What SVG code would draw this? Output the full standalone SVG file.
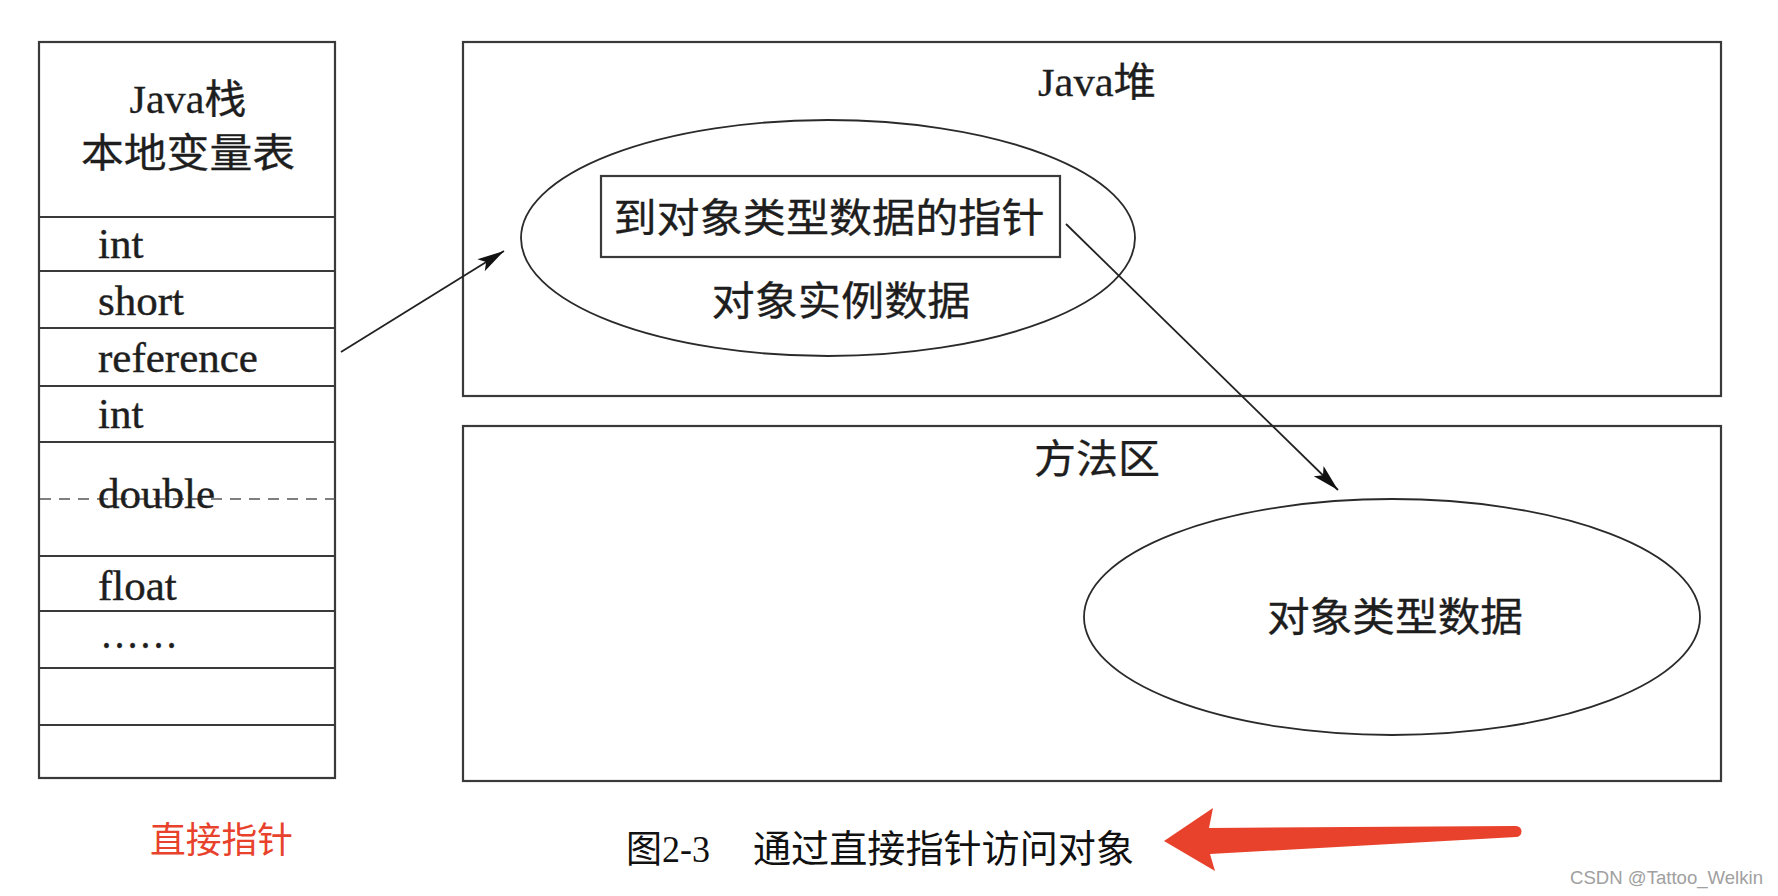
<svg xmlns="http://www.w3.org/2000/svg" width="1778" height="896" viewBox="0 0 1778 896">
<style>
.box{fill:none;stroke:#3a3a3a;stroke-width:2.2}
.thin{fill:none;stroke:#2a2a2a;stroke-width:1.8}
.lat{font-family:"Liberation Serif","Noto Sans CJK SC",serif;font-size:43px;fill:#1e1e1e;stroke:#1e1e1e;stroke-width:0.4}
.cjk{font-family:"Liberation Serif","Noto Sans CJK SC",serif;font-size:40px;fill:#1e1e1e;stroke:#1e1e1e;stroke-width:0.3}
.con{fill:none;stroke:#222;stroke-width:1.8}
</style>
<defs>
<marker id="ah" markerWidth="28" markerHeight="16" refX="27" refY="8" orient="auto" markerUnits="userSpaceOnUse">
<path d="M0,1 L27,8 L0,15 L6,8 Z" fill="#111"/>
</marker>
</defs>
<rect width="1778" height="896" fill="#fff"/>

<g id="stack">
<rect class="box" x="39" y="42" width="296" height="736"/>
<line class="box" x1="39" y1="217" x2="335" y2="217"/>
<line class="box" x1="39" y1="271" x2="335" y2="271"/>
<line class="box" x1="39" y1="328" x2="335" y2="328"/>
<line class="box" x1="39" y1="386" x2="335" y2="386"/>
<line class="box" x1="39" y1="442" x2="335" y2="442"/>
<line class="box" x1="39" y1="556" x2="335" y2="556"/>
<line class="box" x1="39" y1="611" x2="335" y2="611"/>
<line class="box" x1="39" y1="668" x2="335" y2="668"/>
<line class="box" x1="39" y1="725" x2="335" y2="725"/>
<line x1="40" y1="499" x2="335" y2="499" stroke="#555" stroke-width="1.6" stroke-dasharray="11 8"/>
<text class="cjk" x="188" y="113" text-anchor="middle" textLength="117" lengthAdjust="spacingAndGlyphs">Java栈</text>
<text class="cjk" x="188" y="167" text-anchor="middle" textLength="214" lengthAdjust="spacingAndGlyphs">本地变量表</text>
<text class="lat" x="98" y="258">int</text>
<text class="lat" x="98" y="315">short</text>
<text class="lat" x="98" y="372">reference</text>
<text class="lat" x="98" y="428">int</text>
<text class="lat" x="98" y="508">double</text>
<text class="lat" x="98" y="600">float</text>
<text class="lat" x="100" y="648" textLength="78" lengthAdjust="spacingAndGlyphs">……</text>
</g>

<g id="heap">
<rect class="box" x="463" y="42" width="1258" height="354"/>
<text class="cjk" x="1097" y="96" text-anchor="middle" textLength="118" lengthAdjust="spacingAndGlyphs">Java堆</text>
</g>

<g id="heap-object">
<ellipse class="thin" cx="828" cy="238" rx="307" ry="118"/>
<rect class="box" x="601" y="176" width="459" height="81"/>
<text class="cjk" x="829" y="232" text-anchor="middle" textLength="431" lengthAdjust="spacingAndGlyphs" font-size="42">到对象类型数据的指针</text>
<text class="cjk" x="841" y="315" text-anchor="middle" textLength="259" lengthAdjust="spacingAndGlyphs" font-size="42">对象实例数据</text>
</g>

<g id="method-area">
<rect class="box" x="463" y="426" width="1258" height="355"/>
<text class="cjk" x="1097" y="473" text-anchor="middle" textLength="126" lengthAdjust="spacingAndGlyphs" font-size="42">方法区</text>
</g>

<g id="type-data">
<ellipse class="thin" cx="1392" cy="617" rx="308" ry="118"/>
<text class="cjk" x="1395" y="631" text-anchor="middle" textLength="256" lengthAdjust="spacingAndGlyphs" font-size="42">对象类型数据</text>
</g>

<g id="connectors">
<line class="con" x1="341" y1="352" x2="504" y2="251" marker-end="url(#ah)"/>
<line class="con" x1="1066" y1="224" x2="1338" y2="490" marker-end="url(#ah)"/>
</g>

<g id="label-direct">
<text x="150" y="853" font-family="'Noto Sans CJK SC',sans-serif" font-size="36" fill="#e8412c" textLength="143" lengthAdjust="spacingAndGlyphs">直接指针</text>
</g>

<g id="caption">
<text x="626" y="862" font-family="'Liberation Serif','Noto Sans CJK SC',serif" font-size="38" fill="#111" textLength="84" lengthAdjust="spacingAndGlyphs">图2-3</text>
<text x="753" y="862" font-family="'Liberation Serif','Noto Sans CJK SC',serif" font-size="38" fill="#111" textLength="381" lengthAdjust="spacingAndGlyphs">通过直接指针访问对象</text>
</g>

<g id="red-arrow">
<path d="M1164,841 L1213,808 L1209,828 L1516,826 A5.5,5.5 0 0 1 1516,837 L1210,854 L1215,871 Z" fill="#e8412c"/>
</g>

<g id="watermark">
<text x="1570" y="884" font-family="'Liberation Sans',sans-serif" font-size="19" fill="#a0a0a0" textLength="193" lengthAdjust="spacingAndGlyphs">CSDN @Tattoo_Welkin</text>
</g>
</svg>
